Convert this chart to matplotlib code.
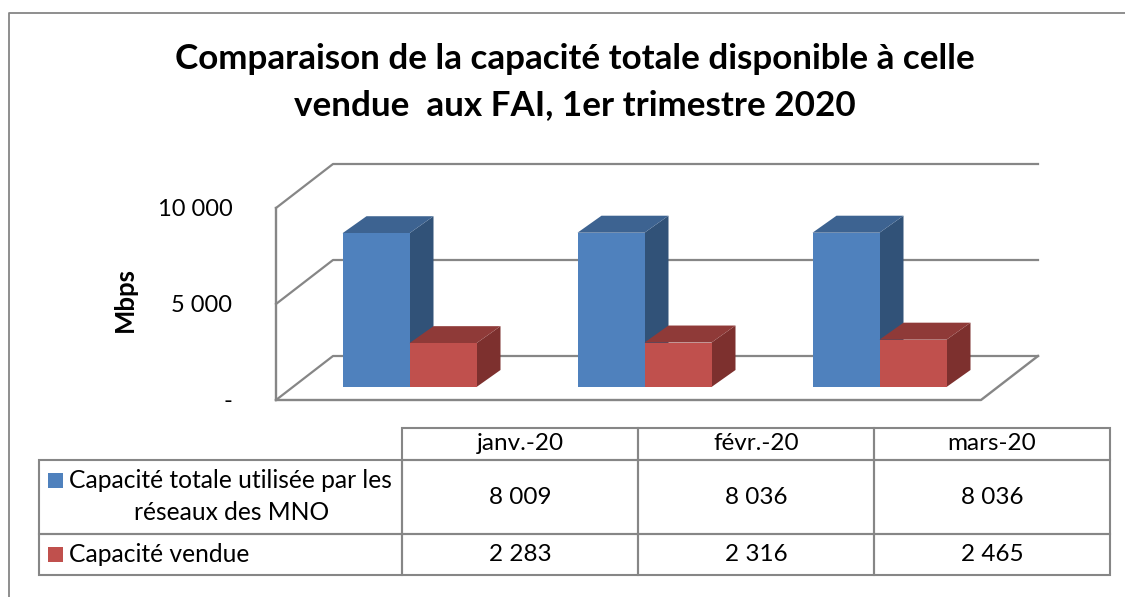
import matplotlib
matplotlib.use("Agg")
import matplotlib.pyplot as plt
from matplotlib.patches import Rectangle
from matplotlib.transforms import Affine2D

plt.rcParams['font.family'] = ['Lato', 'DejaVu Sans']

# Data
months = ["janv.-20", "févr.-20", "mars-20"]
capacite_totale = [8009, 8036, 8036]
capacite_vendue = [2283, 2316, 2465]
label_totale = "Capacité totale utilisée par les\nréseaux des MNO"
label_vendue = "Capacité vendue"
yticks = [0, 5000, 10000]
ytick_labels = ["-", "5 000", "10 000"]
title = "Comparaison de la capacité totale disponible à celle\nvendue  aux FAI, 1er trimestre 2020"

# Colours
BLUE = ("#4f81bd", "#3d6391", "#315278")
RED = ("#c0504d", "#8f3a38", "#7d302e")
GRAY = "#868686"

W, H = 1125, 597
fig = plt.figure(figsize=(W / 100, H / 100), dpi=100)

# Background axes in pixels: frame, title, table
bg = fig.add_axes([0, 0, 1, 1])
bg.set_xlim(0, W)
bg.set_ylim(H, 0)
bg.axis("off")
bg.plot([9, 9, W], [H, 13, 13], color=GRAY, lw=1.3)
bg.text(574.5, 82, title, ha="center", va="center", fontsize=25.2, fontweight="bold",
        linespacing=1.56, color="black")

# Plot axes: front plane of the 3D box
ax = fig.add_axes([276 / W, (H - 400) / H, 705 / W, 192 / H])
ax.set_xlim(-0.5, 2.5)
ax.set_ylim(0, 10000)
ax.patch.set_visible(False)
for s in ax.spines.values():
    s.set_visible(False)
ax.set_xticks([])
ax.set_yticks(yticks)
ax.set_yticklabels(ytick_labels, fontsize=17)
ax.tick_params(axis="y", length=0, pad=31.5)
ax.set_ylabel("Mbps", fontsize=18.5, fontweight="bold")
ax.yaxis.set_label_coords((137 - 276) / 705, (400 - 300) / 192)

# pixel sizes to data units
px_x = 3 / 705
px_y = 10000 / 192
WALL_X, WALL_Y = 57 * px_x, 44 * px_y
BAR_OFF_X, BAR_OFF_Y = 16, 13
DEPTH_X, DEPTH_Y = 24 * px_x, 17 * px_y
bar_w = 67 * px_x

# walls and floor
ax.plot([-0.5, -0.5], [0, 10000], color=GRAY, lw=1.7, clip_on=False)
for v in yticks:
    ax.plot([-0.5, -0.5 + WALL_X, 2.5 + WALL_X], [v, v + WALL_Y, v + WALL_Y],
            color=GRAY, lw=1.6, clip_on=False)
ax.plot([-0.5, 2.5, 2.5 + WALL_X], [0, 0, WALL_Y], color=GRAY, lw=1.7, clip_on=False)

# bars sit a little behind the front plane
shift = ax.transData + Affine2D().translate(BAR_OFF_X, BAR_OFF_Y)


def bar3d(x, v, colors, z):
    ax.bar(x, v, bar_w, align="edge", color=colors[0], transform=shift, clip_on=False, zorder=z + 0.2)
    top = [(x, v), (x + bar_w, v), (x + bar_w + DEPTH_X, v + DEPTH_Y), (x + DEPTH_X, v + DEPTH_Y)]
    side = [(x + bar_w, 0), (x + bar_w + DEPTH_X, DEPTH_Y), (x + bar_w + DEPTH_X, v + DEPTH_Y), (x + bar_w, v)]
    ax.fill(*zip(*top), color=colors[1], lw=0, transform=shift, clip_on=False, zorder=z + 0.1)
    ax.fill(*zip(*side), color=colors[2], lw=0, transform=shift, clip_on=False, zorder=z)


for i in range(len(months)):
    bar3d(i - bar_w, capacite_totale[i], BLUE, 3)
    bar3d(i, capacite_vendue[i], RED, 4)

# Data table
fmt = lambda v: f"{v:,}".replace(",", " ")
cells = [[""] + months,
         [""] + [fmt(v) for v in capacite_totale],
         [""] + [fmt(v) for v in capacite_vendue]]
col_x = [39, 402, 638, 874, 1110]
row_y = [428, 460, 534, 575]
tw = col_x[-1] - col_x[0]
th = row_y[-1] - row_y[0]
tab = bg.table(cellText=cells, cellLoc="center",
               colWidths=[(col_x[i + 1] - col_x[i]) / tw for i in range(4)],
               bbox=[col_x[0] / W, (H - row_y[-1]) / H, tw / W, th / H],
               transform=fig.transFigure)
tab.auto_set_font_size(False)
tab.set_fontsize(17.5)
for (r, c), cell in tab.get_celld().items():
    cell.set_height((row_y[r + 1] - row_y[r]) / H)
    cell.set_edgecolor(GRAY)
    cell.set_linewidth(1.5)
    cell.set_facecolor("none")
tab[(0, 0)].visible_edges = ""

# Row labels with colour keys
bg.add_patch(Rectangle((48, 473), 15, 15, color=BLUE[0], lw=0))
bg.add_patch(Rectangle((48, 547), 15, 15, color=RED[0], lw=0))
l1, l2 = label_totale.split("\n")
bg.text(69, 480, l1, ha="left", va="center", fontsize=17.7)
bg.text(232, 512, l2, ha="center", va="center", fontsize=17.7)
bg.text(69, 554, label_vendue, ha="left", va="center", fontsize=17.7)

fig.savefig("out.png", dpi=100)
